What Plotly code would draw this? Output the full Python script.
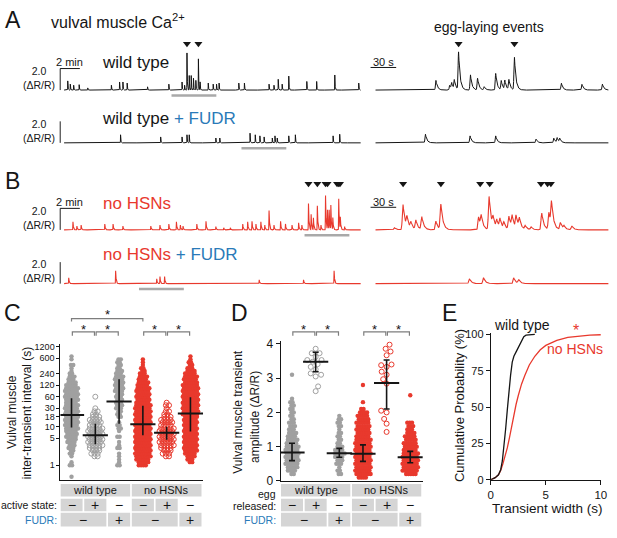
import numpy as np
import plotly.graph_objects as go

W, H = 617, 538
FONT = "Liberation Sans, Arial, Helvetica, sans-serif"
INK = "#151515"
GRAY = "#a0a0a0"
RED = "#e8392d"
BLUE = "#2a7ab8"
BOX = "#d5d5d5"
WINDOW = "#a9a9a9"
BRACKET = "#7d7d7d"

# ---------------- data ----------------
# (A, B) vulval muscle Ca2+ transients: peak time and peak amplitude (ΔR/R)
# left = whole recording (min), right = underlined window (s)
wt_left_t = [0.37, 0.63, 0.97, 1.53, 2.4, 4.8, 5.63, 5.97, 6.4, 8.47, 10.63, 11.97, 12.23, 12.47,
             12.7, 12.9, 13.13, 13.37, 13.63, 13.8, 14.63, 15.13, 15.47, 15.73, 17.73, 18.3, 20.8,
             21.3, 21.73, 22.13, 22.8, 24.63, 25.63, 27.47, 29.9]
wt_left_a = [0.85, 0.55, 0.45, 0.5, 0.2, 0.45, 0.75, 0.75, 0.65, 0.3, 0.55, 0.75, 0.45, 3.45,
             1.35, 1.35, 1.1, 0.9, 2.9, 0.75, 0.65, 0.55, 0.55, 0.65, 0.65, 0.65, 0.55,
             0.45, 1.0, 0.55, 1.3, 0.8, 0.8, 1.4, 0.65]
wt_zoom_s = [70.8, 86.9, 89.2, 92.3, 97.3, 111.2, 119.6, 127.3, 140.8, 147.3, 151.5, 156.2,
             162.7, 217.7, 241.9, 265.8]
wt_zoom_a = [0.9, 0.45, 0.6, 0.85, 3.5, 1.45, 1.1, 0.3, 1.55, 0.85, 0.85, 0.95,
             3.1, 0.65, 0.55, 0.55]

wtF_left_t = [5.73, 9.8, 11.97, 12.47, 12.7, 15.4, 15.8, 18.87, 19.4, 19.87, 20.3, 21.13,
              21.4, 21.63, 22.8, 23.47, 27.3, 27.97]
wtF_left_a = [0.75, 0.55, 0.55, 0.75, 0.75, 0.45, 0.45, 0.9, 0.75, 0.65, 0.55, 0.45,
              0.65, 0.45, 0.65, 0.75, 0.65, 0.8]
wtF_zoom_s = [58.5, 110.8, 140.8, 188.1, 208.9, 212.7, 215.8]
wtF_zoom_a = [0.8, 0.65, 0.65, 0.35, 0.45, 0.45, 0.35]

hsn_left_t = [0.9, 1.3, 1.73, 4.13, 4.97, 5.97, 8.8, 9.73, 10.63, 11.4, 11.8, 12.07, 13.47,
              14.4, 15.4, 16.2, 16.87, 18.13, 18.63, 19.07, 19.47, 19.97, 20.37, 20.8, 21.3,
              21.97, 22.47, 23.13, 23.8, 24.13, 24.8, 25.07, 25.3, 25.7, 26.07, 26.53, 26.73,
              26.9, 27.07, 27.27, 27.87, 28.03, 28.47]
hsn_left_a = [0.75, 0.35, 0.45, 0.55, 0.55, 0.35, 0.35, 0.45, 0.55, 0.75, 0.45, 0.35, 0.55,
              0.8, 0.3, 0.2, 0.2, 0.55, 0.75, 0.8, 0.55, 0.75, 0.45, 1.8, 0.45,
              0.8, 0.55, 0.45, 0.65, 0.45, 2.45, 1.45, 1.1, 2.25, 0.45, 3.2, 1.8,
              1.8, 2.25, 1.1, 2.9, 1.1, 0.3]
hsn_zoom_s = [22.3, 32.3, 36.9, 41.5, 47.3, 54.2, 70.8, 76.6, 120.8, 123.8, 133.1, 137.7, 142,
              145.8, 150.4, 156.2, 160, 164.7, 168.5, 175.4, 182.3, 194.7, 203.1, 206.2, 216.6,
              220.8, 230]
hsn_zoom_a = [0.2, 2.35, 1.0, 0.6, 0.85, 1.2, 0.8, 2.35, 1.2, 1.1, 3.1, 0.9, 0.8,
              0.9, 0.6, 1.25, 1.15, 1.2, 0.9, 0.35, 0.25, 1.6, 1.6, 2.3, 0.65,
              0.3, 0.35]

hsnF_left_t = [0.47, 5.23, 9.4, 9.73, 10.2, 19.8, 24.3, 27.4]
hsnF_left_a = [0.55, 1.2, 0.45, 0.65, 0.65, 0.35, 0.35, 1.2]
hsnF_zoom_s = [110, 126.6, 161.9, 167.7]
hsnF_zoom_a = [0.45, 0.55, 0.55, 0.35]

wt_egg_left = [12.47, 13.63]
wt_egg_zoom = [97.3, 162.7]
hsn_egg_left = [24.8, 25.7, 26.53, 26.73, 27.7, 27.87, 28.0]
hsn_egg_zoom = [32.3, 76.6, 122.6, 133.8, 193.8, 201.5, 205.4]

zoom_start_min = [10.9, 18.0, 24.4, 7.6]
ZOOM_LEN_MIN = 4.55

# (C) inter-transient interval (s): value levels and number of intervals at each level
c_levels = [0.5, 0.6, 0.7, 0.85, 1, 1.2, 1.4, 1.7, 2, 2.4, 2.8, 3.3, 4, 4.7, 5.5, 6.5, 7.7, 9,
            11, 13, 15, 18, 21, 25, 30, 36, 42, 50, 60, 70, 85, 100, 120, 140, 170, 200, 240,
            280, 330, 400, 470, 560, 670]
c_wt = [1, 0, 0, 0, 2, 1, 0, 1, 2, 2, 3, 3, 4, 4, 5, 5, 5, 6, 6, 6, 6, 6, 6, 6, 6, 6, 5, 6,
        6, 6, 6, 6, 5, 4, 3, 3, 2, 1, 1, 2, 0, 1, 1]
c_wt_active = [0, 0, 0, 0, 0, 0, 0, 2, 3, 3, 4, 5, 5, 5, 5, 5, 5, 5, 4, 4, 4, 3, 2, 2, 1, 0,
               0, 0, 1, 0, 0, 0, 0, 0, 0, 0, 0, 0, 0, 0, 0, 0, 0]
c_wt_fudr = [0, 0, 0, 0, 2, 1, 1, 1, 1, 0, 2, 1, 1, 0, 2, 0, 1, 2, 2, 1, 0, 2, 2, 2, 3, 3, 3,
             3, 3, 3, 4, 4, 4, 4, 4, 4, 3, 3, 2, 2, 2, 2, 0]
c_hsn = [0, 0, 0, 0, 4, 5, 6, 7, 7, 7, 7, 7, 7, 7, 7, 7, 7, 7, 7, 7, 7, 7, 7, 7, 7, 7, 6, 6,
         6, 6, 6, 6, 5, 5, 4, 4, 3, 2, 2, 1, 1, 1, 0]
c_hsn_active = [0, 0, 0, 0, 0, 0, 0, 2, 3, 3, 4, 5, 5, 5, 5, 5, 5, 5, 4, 4, 4, 3, 2, 2, 1, 2,
                1, 0, 0, 0, 0, 0, 0, 0, 0, 0, 0, 0, 0, 0, 0, 0, 0]
c_hsn_fudr = [0, 0, 0, 0, 0, 2, 3, 4, 5, 6, 6, 6, 6, 6, 6, 6, 6, 6, 6, 6, 6, 6, 7, 7, 7, 7, 7,
              7, 7, 7, 7, 7, 7, 6, 6, 6, 5, 4, 3, 2, 2, 1, 1]
c_median = [20, 6, 45, 11.5, 7, 22]
c_q1 = [9.5, 3.5, 12, 6, 4.6, 7.5]
c_q3 = [55, 12, 170, 35, 10, 58]
c_ticks = [1, 5, 10, 18, 30, 60, 120, 240, 600, 1200]

# (D) transient amplitude (ΔR/R)
d_levels = [0.1, 0.2, 0.3, 0.4, 0.5, 0.6, 0.7, 0.8, 0.9, 1.0, 1.1, 1.2, 1.3, 1.4, 1.5, 1.6,
            1.7, 1.8, 1.9, 2.0, 2.1, 2.2, 2.3, 2.4, 2.5, 2.6, 2.7, 2.8, 2.9, 3.0, 3.1, 3.2]
d_wt = [0, 2, 4, 5, 6, 6, 6, 6, 6, 6, 5, 5, 4, 4, 3, 3, 3, 2, 2, 2, 2, 2, 2, 1, 0, 0, 0, 0,
        0, 0, 1, 0]
d_wt_released = [3.86, 3.73, 3.73, 3.62, 3.53, 3.53, 3.48, 3.41, 3.33, 3.26, 3.14, 3.10, 3.05,
                 2.76, 2.62]
d_wt_fudr = [0, 2, 2, 1, 3, 3, 4, 5, 4, 3, 2, 2, 2, 2, 1, 2, 2, 2, 1, 0, 0, 0, 0, 0, 0, 0, 0,
             0, 0, 0, 0, 0]
d_hsn = [4, 7, 7, 7, 7, 7, 7, 7, 7, 7, 7, 7, 6, 6, 6, 6, 6, 5, 5, 4, 2, 0, 1, 0, 0, 0, 0, 1,
         0, 0, 0, 0]
d_hsn_released = [3.98, 3.86, 3.78, 3.67, 3.40, 3.38, 3.33, 3.19, 3.10, 2.97, 2.84, 2.05, 2.0,
                  1.81, 1.67, 1.43]
d_hsn_fudr = [0, 5, 7, 7, 7, 7, 7, 7, 6, 6, 6, 5, 5, 4, 3, 3, 3, 0, 0, 0, 0, 0, 0, 0, 1, 0, 0,
              0, 0, 0, 0, 0]
d_median = [0.83, 3.48, 0.81, 0.79, 2.86, 0.69]
d_q1 = [0.59, 3.19, 0.69, 0.57, 2.1, 0.53]
d_q3 = [1.1, 3.76, 0.95, 1.05, 3.53, 0.86]

# (E) cumulative distribution of transient width
e_wt_width = [0, 0.4, 0.7, 0.9, 1.05, 1.2, 1.35, 1.5, 1.65, 1.8, 1.95, 2.1, 2.3, 2.55, 2.8,
              3.0, 3.2, 3.5, 4.0]
e_wt_cum = [0, 1.5, 3.5, 7, 13, 22, 35, 48, 61, 72, 81, 85, 88, 92, 96, 98.5, 99.5, 99.8, 100]
e_hsn_width = [0, 0.4, 0.7, 0.9, 1.1, 1.3, 1.5, 1.7, 1.9, 2.1, 2.3, 2.5, 2.8, 3.1, 3.5, 4.0,
               4.5, 5.0, 5.5, 6.0, 7.0, 8.0, 9.0, 10.0]
e_hsn_cum = [0, 1.5, 3.5, 6.5, 11, 16, 22, 29, 37, 45, 52, 58, 66, 72, 79, 85, 89.5, 92.5, 94.5,
             96, 98, 99, 99.5, 99.8]

genotypes = ["wild type", "no HSNs"]
state_signs = ["−", "+", "−", "−", "+", "−"]
fudr_spans = [("−", 1, 2), ("+", 3, 3), ("−", 4, 5), ("+", 6, 6)]


# ---------------- helpers ----------------
def X(px):
    return px / W


def Y(py):
    return 1 - py / H


annotations, shapes = [], []


def label(x, y, s, size=12, color=INK, xanchor="center", yanchor="middle", xref="paper", angle=0):
    annotations.append(dict(
        x=X(x) if xref == "paper" else x, y=Y(y), xref=xref, yref="paper",
        text=s, showarrow=False, textangle=angle,
        font=dict(family=FONT, size=size, color=color),
        xanchor=xanchor, yanchor=yanchor))


def transient_curve(grid, times, amps, rise, decay):
    y = np.zeros_like(grid)
    for t0, a in zip(times, amps):
        d = grid - t0
        y += a * np.where(d < 0, np.exp(-(d / rise) ** 2), np.exp(-np.clip(d, 0, None) / decay))
    return y


def row_layout(levels, counts, spacing):
    """points at the same level sit side by side, centred on the group"""
    xs, ys = [], []
    for j, (v, n) in enumerate(zip(levels, counts)):
        shift = 0.25 * spacing if j % 2 else -0.25 * spacing
        for k in range(n):
            xs.append((k - (n - 1) / 2) * spacing + (shift if n > 1 else 0))
            ys.append(v)
    return np.array(xs), np.array(ys)


def swarm(ypx, dmin, step=0.5):
    ypx = np.asarray(ypx, dtype=float)
    out = np.zeros(len(ypx))
    px, py = [], []
    for n, i in enumerate(np.argsort(ypx, kind="stable")):
        y = ypx[i]
        near = [(a, b) for a, b in zip(px, py) if abs(y - b) < dmin]
        k, hit = 0, None
        while hit is None:
            cands = [0.0] if k == 0 else ([k * step, -k * step] if n % 2 else [-k * step, k * step])
            for c in cands:
                if all((c - a) ** 2 + (y - b) ** 2 >= dmin ** 2 for a, b in near):
                    hit = c
                    break
            k += 1
        out[i] = hit
        px.append(hit)
        py.append(y)
    return out


def marker(col, hollow):
    if hollow:
        return dict(symbol="circle-open", size=5, color=col, line=dict(width=1, color=col))
    return dict(symbol="circle", size=4.4, color=col, line=dict(width=0))


fig = go.Figure()
layout_axes = {}

# ---------------- A, B: traces ----------------
left_grid = np.arange(0, 30.1, 0.005)
zoom_grid = np.arange(0, 273.0, 0.25)
rows = [
    (87, INK, wt_left_t, wt_left_a, wt_zoom_s, wt_zoom_a, wt_egg_left, wt_egg_zoom, (0.012, 0.03), (0.8, 1.8)),
    (141, INK, wtF_left_t, wtF_left_a, wtF_zoom_s, wtF_zoom_a, [], [], (0.012, 0.03), (0.8, 1.8)),
    (230, RED, hsn_left_t, hsn_left_a, hsn_zoom_s, hsn_zoom_a, hsn_egg_left, hsn_egg_zoom, (0.02, 0.05), (1.2, 2.4)),
    (285, RED, hsnF_left_t, hsnF_left_a, hsnF_zoom_s, hsnF_zoom_a, [], [], (0.02, 0.05), (1.2, 2.4)),
]
for i, (b, col, lt, la, zt, za, egg_l, egg_z, kl, kz) in enumerate(rows):
    li, ri = 4 + i, 8 + i
    ydom = [Y(b + 4), Y(b - 52)]
    yr = [-4 / 11, 52 / 11]
    layout_axes[f"xaxis{li}"] = dict(domain=[X(57), X(364)], range=[-0.5, 30.2], visible=False, anchor=f"y{li}")
    layout_axes[f"yaxis{li}"] = dict(domain=ydom, range=yr, visible=False, anchor=f"x{li}")
    layout_axes[f"xaxis{ri}"] = dict(domain=[X(372.4), X(615)], range=[-6.5, 273.5], visible=False, anchor=f"y{ri}")
    layout_axes[f"yaxis{ri}"] = dict(domain=ydom, range=yr, visible=False, anchor=f"x{ri}")
    lw = 1.0 if col == INK else 1.1
    fig.add_trace(go.Scatter(x=left_grid, y=transient_curve(left_grid, lt, la, *kl), mode="lines",
                             line=dict(color=col, width=lw), xaxis=f"x{li}", yaxis=f"y{li}", hoverinfo="skip"))
    fig.add_trace(go.Scatter(x=zoom_grid, y=transient_curve(zoom_grid, zt, za, *kz), mode="lines",
                             line=dict(color=col, width=lw), xaxis=f"x{ri}", yaxis=f"y{ri}", hoverinfo="skip"))
    for ev, ax in ((egg_l, li), (egg_z, ri)):
        if ev:
            fig.add_trace(go.Scatter(x=ev, y=[4.3] * len(ev), mode="markers", cliponaxis=False,
                                     marker=dict(symbol="triangle-down", size=7, color=INK),
                                     xaxis=f"x{ax}", yaxis=f"y{ax}", hoverinfo="skip"))
    # underline of the zoomed window
    w0 = zoom_start_min[i]
    shapes.append(dict(type="line", xref=f"x{li}", yref="paper", x0=w0, x1=w0 + ZOOM_LEN_MIN,
                       y0=Y(b + 5.5), y1=Y(b + 5.5), line=dict(color=WINDOW, width=2.5)))
    # 2.0 ΔR/R scale bar
    shapes.append(dict(type="line", xref=f"x{li}", yref=f"y{li}", x0=-0.4, x1=-0.4, y0=0, y1=2,
                       line=dict(color=INK, width=1)))
    label(55, b - 12.5, "2.0<br>(ΔR/R)", 10.5, xanchor="right")
    if i in (0, 2):
        shapes.append(dict(type="line", xref=f"x{li}", yref=f"y{li}", x0=-0.4, x1=1.6, y0=2, y1=2,
                           line=dict(color=INK, width=1)))
        shapes.append(dict(type="line", xref=f"x{ri}", yref=f"y{ri}", x0=-5.8, x1=24.2, y0=2.1, y1=2.1,
                           line=dict(color=INK, width=1)))
        label(67, b - 29, "2 min", 11)
        label(386, b - 29, "30 s", 11)

fud = f"<span style='color:{BLUE}'>+ FUDR</span>"
label(98, 59, "wild type", 17, xanchor="left")
label(98, 116, "wild type " + fud, 17, xanchor="left")
label(99, 203, "no HSNs", 17, RED, xanchor="left")
label(99, 255, "no HSNs " + fud, 17, RED, xanchor="left")
label(493, 23, "egg-laying events", 14)
label(47, 16, "vulval muscle Ca<sup>2+</sup>", 16, xanchor="left")
for s, x, y in (("A", 10, 15), ("B", 10, 180), ("C", 10, 315), ("D", 240, 315), ("E", 453, 315)):
    label(x, y, s, 23)

# ---------------- C, D: strip plots ----------------
styles = [(GRAY, False), (GRAY, True), (GRAY, False), (RED, False), (RED, True), (RED, False)]
c_groups = [c_wt, c_wt_active, c_wt_fudr, c_hsn, c_hsn_active, c_hsn_fudr]
for g, (counts, (col, hollow)) in enumerate(zip(c_groups, styles), start=1):
    off, vals = row_layout(c_levels, counts, 3.2 if hollow else 2.4)
    fig.add_trace(go.Scatter(x=g + off / 24.14, y=vals, mode="markers", marker=marker(col, hollow),
                             xaxis="x", yaxis="y", hoverinfo="skip"))

d_groups = [d_wt, d_wt_released, d_wt_fudr, d_hsn, d_hsn_released, d_hsn_fudr]
for g, (grp_data, (col, hollow)) in enumerate(zip(d_groups, styles), start=1):
    if hollow:
        vals = np.array(grp_data)
        off = swarm(35 * vals, 5.5)
    else:
        off, vals = row_layout(d_levels, grp_data, 2.4)
    fig.add_trace(go.Scatter(x=g + off / 24.0, y=vals, mode="markers", marker=marker(col, hollow),
                             xaxis="x2", yaxis="y2", hoverinfo="skip"))

grp = [1, 2, 3, 4, 5, 6]
for xa, ya, med, q1, q3, cap in (("x", "y", c_median, c_q1, c_q3, 0), ("x2", "y2", d_median, d_q1, d_q3, 3)):
    med, q1, q3 = map(np.asarray, (med, q1, q3))
    fig.add_trace(go.Scatter(
        x=grp, y=med, mode="markers", xaxis=xa, yaxis=ya, hoverinfo="skip",
        marker=dict(symbol="line-ew", size=18, color=INK, line=dict(width=2, color=INK)),
        error_y=dict(type="data", symmetric=False, array=q3 - med, arrayminus=med - q1,
                     color=INK, thickness=1.6, width=cap)))


def bracket(xref, a, b, ypx, leg, star_dy):
    shapes.append(dict(type="path", xref=xref, yref="paper",
                       path=f"M {a},{Y(ypx + leg)} L {a},{Y(ypx)} L {b},{Y(ypx)} L {b},{Y(ypx + leg)}",
                       line=dict(color=BRACKET, width=1.2)))
    label((a + b) / 2, ypx - star_dy, "*", 13, xref=xref)


bracket("x", 1.0, 4.0, 320.7, 3, 4)
for xr in ("x", "x2"):
    for a, b in ((1, 2), (2, 3), (4, 5), (5, 6)):
        bracket(xr, a + 0.035, b - 0.035, 334.3, 4, 2.5)

ROWS = [(490, 502.7), (505, 517.7), (519.3, 533.3)]
HALF = 0.465


def cell(xref, g0, g1, r, txt, size, filled=True):
    y0, y1 = ROWS[r]
    if filled:
        shapes.append(dict(type="rect", xref=xref, yref="paper", x0=g0 - HALF, x1=g1 + HALF,
                           y0=Y(y1), y1=Y(y0), fillcolor=BOX, line=dict(width=0), layer="below"))
    label((g0 + g1) / 2, (y0 + y1) / 2, txt, size, xref=xref)


for xr in ("x", "x2"):
    cell(xr, 1, 3, 0, genotypes[0], 11)
    cell(xr, 4, 6, 0, genotypes[1], 11)
    for g, s in enumerate(state_signs, start=1):
        cell(xr, g, g, 1, s, 14, filled=g not in (3, 6))
    for s, g0, g1 in fudr_spans:
        cell(xr, g0, g1, 2, s, 14)

label(57, 511.5, "active state:", 10.5, xanchor="right")
label(57, 526.5, "FUDR:", 10.5, BLUE, xanchor="right")
label(279, 500, "egg", 10.5, xanchor="right")
label(279, 512, "released:", 10.5, xanchor="right")
label(279, 526.5, "FUDR:", 10.5, BLUE, xanchor="right")

label(8.5, 416, "Vulval muscle", 12, angle=-90)
label(24, 417, "inter-transient interval (s)", 12, angle=-90)
label(238.5, 416, "Vulval muscle transient", 12, angle=-90)
label(255, 421, "amplitude (ΔR/R)", 12, angle=-90)
label(464, 410, "Cumulative Probability (%)", 13, angle=-90)
label(553, 515, "Transient width (s)", 13.5)

# ---------------- E: cumulative ----------------
fig.add_trace(go.Scatter(x=e_hsn_width, y=e_hsn_cum, mode="lines", line=dict(color=RED, width=1.3),
                         xaxis="x3", yaxis="y3", hoverinfo="skip"))
fig.add_trace(go.Scatter(x=e_wt_width, y=e_wt_cum, mode="lines", line=dict(color=INK, width=1.3),
                         xaxis="x3", yaxis="y3", hoverinfo="skip"))
label(527, 327, "wild type", 14)
label(580, 352, "no HSNs", 14, RED)
label(581, 333, "*", 16, RED)

ax = dict(showline=True, linecolor=INK, linewidth=1, ticks="outside", ticklen=4, tickwidth=1,
          tickcolor=INK, showgrid=False, zeroline=False, fixedrange=True)
layout_axes["xaxis"] = dict(ax, domain=[X(58.3), X(203.3)], range=[0.535, 6.542], ticks="",
                            showticklabels=False, anchor="y")
layout_axes["yaxis"] = dict(ax, domain=[Y(486), Y(347)], type="log", range=[-0.388, 3.14],
                            tickvals=c_ticks, ticktext=[str(t) for t in c_ticks], ticklen=3,
                            tickfont=dict(family=FONT, size=9, color=INK), anchor="x")
layout_axes["xaxis2"] = dict(ax, domain=[X(281.7), X(426)], range=[0.517, 6.53], ticks="",
                             showticklabels=False, anchor="y2")
layout_axes["yaxis2"] = dict(ax, domain=[Y(486.7), Y(344)], range=[0, 4.077], tickvals=[0, 1, 2, 3, 4],
                             tickfont=dict(family=FONT, size=12, color=INK), anchor="x2")
layout_axes["xaxis3"] = dict(ax, domain=[X(495), X(606.7)], range=[0, 10], tickvals=[0, 5, 10],
                             tickfont=dict(family=FONT, size=11.5, color=INK), anchor="y3")
layout_axes["yaxis3"] = dict(ax, domain=[Y(485.7), Y(335.5)], range=[0, 101], tickvals=[0, 25, 50, 75, 100],
                             tickfont=dict(family=FONT, size=11, color=INK), anchor="x3")

fig.update_layout(
    width=W, height=H, autosize=False,
    margin=dict(l=0, r=0, t=0, b=0),
    paper_bgcolor="white", plot_bgcolor="rgba(0,0,0,0)",
    showlegend=False,
    font=dict(family=FONT, color=INK),
    annotations=annotations, shapes=shapes,
    **layout_axes,
)
# drop the browser's default 8px page margin so the figure sits at the window origin
fig.write_html("out.html", config={"displayModeBar": False},
               post_script="document.body.style.margin='0';document.body.style.padding='0';")
